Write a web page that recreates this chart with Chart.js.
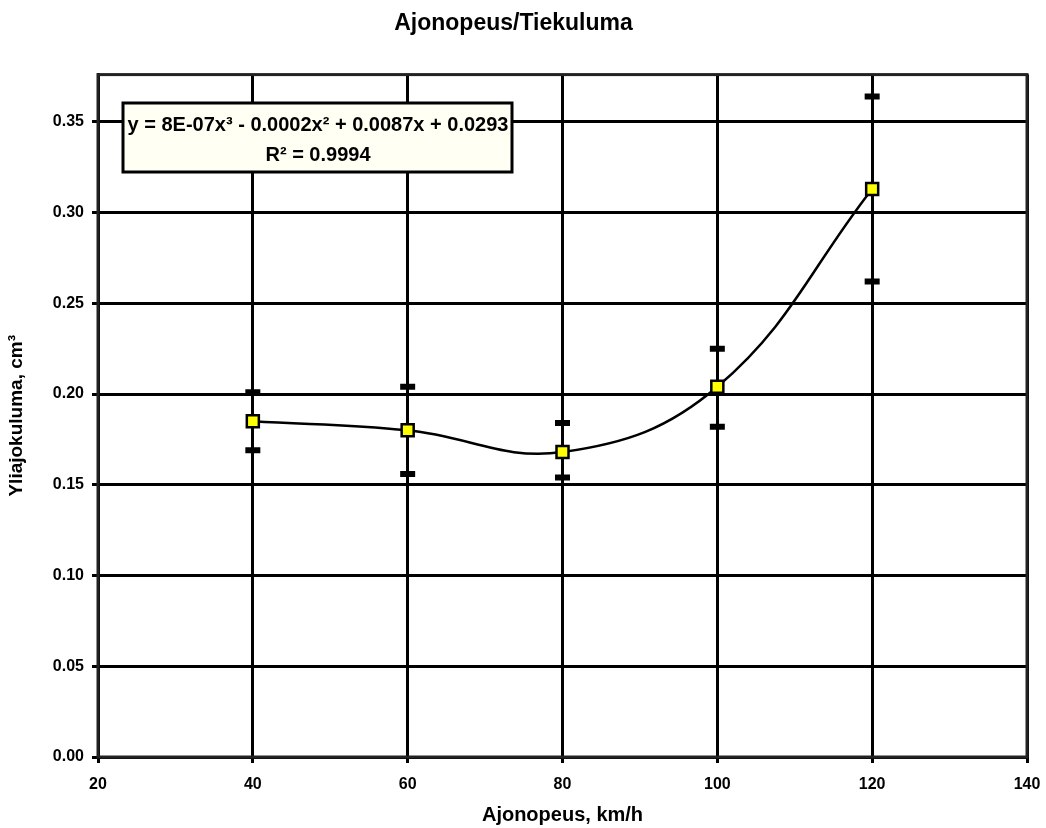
<!DOCTYPE html>
<html>
<head>
<meta charset="utf-8">
<script src="https://cdn.jsdelivr.net/npm/chart.js@4"></script>
<style>
  html, body { margin: 0; padding: 0; background: #fff; }
  #wrap { width: 1046px; height: 828px; }
</style>
</head>
<body>
<div id="wrap"><canvas id="myChart" width="1046" height="828"></canvas></div>
<script>
// data
var speeds = [40, 60, 80, 100, 120];
var wear = [0.185, 0.180, 0.168, 0.204, 0.313];
var errHigh = [0.201, 0.204, 0.184, 0.225, 0.364];
var errLow = [0.169, 0.156, 0.154, 0.182, 0.262];
var xTicks = [20, 40, 60, 80, 100, 120, 140];
var yTicks = [0, 0.05, 0.10, 0.15, 0.20, 0.25, 0.30, 0.35];
var equationLines = ['y = 8E-07x\u00b3 - 0.0002x\u00b2 + 0.0087x + 0.0293', 'R\u00b2 = 0.9994'];

var FONT = '"Liberation Sans", Arial, sans-serif';

function pts(ys) {
    return speeds.map(function (x, i) { return { x: x, y: ys[i] }; });
}

// frame round the plot area and the trendline label box
var extras = {
    id: 'extras',
    afterDraw: function (chart) {
        var c = chart.ctx, a = chart.chartArea;
        c.save();
        c.strokeStyle = '#222';
        c.lineWidth = 3;
        c.strokeRect(a.left, a.top, a.right - a.left, a.bottom - a.top);

        c.fillStyle = '#fffff4';
        c.fillRect(123, 103, 389, 69);
        c.strokeStyle = '#000';
        c.strokeRect(123, 103, 389, 69);
        c.fillStyle = '#000';
        c.font = 'bold 20px ' + FONT;
        c.textAlign = 'center';
        c.textBaseline = 'middle';
        c.fillText(equationLines[0], 318, 125);
        c.fillText(equationLines[1], 318, 155);
        c.restore();
    }
};

var ctx = document.getElementById('myChart').getContext('2d');
var chart = new Chart(ctx, {
    type: 'scatter',
    data: {
        datasets: [{
            label: 'Mittaus',
            data: pts(wear),
            pointStyle: 'rect',
            pointRadius: 8.5,
            pointBackgroundColor: '#ffff00',
            pointBorderColor: '#000',
            pointBorderWidth: 2.5,
            order: 0
        }, {
            label: 'Virhe ylä',
            data: pts(errHigh),
            pointStyle: 'line',
            pointRadius: 7.5,
            pointBorderColor: '#000',
            pointBorderWidth: 6,
            order: 1
        }, {
            label: 'Virhe ala',
            data: pts(errLow),
            pointStyle: 'line',
            pointRadius: 7.5,
            pointBorderColor: '#000',
            pointBorderWidth: 6,
            order: 1
        }, {
            label: 'Trendi',
            data: pts(wear),
            showLine: true,
            tension: 0.4,
            borderColor: '#000',
            borderWidth: 2.5,
            pointRadius: 0,
            order: 2
        }]
    },
    options: {
        responsive: false,
        animation: false,
        layout: { padding: { left: 0, right: 19, top: 0, bottom: 0 } },
        plugins: {
            legend: { display: false },
            tooltip: { enabled: false },
            title: {
                display: true,
                text: 'Ajonopeus/Tiekuluma',
                color: '#000',
                font: { family: FONT, size: 23, weight: 'bold' },
                padding: { top: 10, bottom: 37 }
            }
        },
        scales: {
            x: {
                type: 'linear',
                min: 20,
                max: 140,
                afterBuildTicks: function (s) { s.ticks = xTicks.map(function (v) { return { value: v }; }); },
                afterFit: function (s) { s.height = 71; s.paddingRight = 0; s.paddingLeft = 0; },
                grid: { color: '#000', lineWidth: 3, tickLength: 6 },
                border: { color: '#000', width: 3 },
                ticks: {
                    color: '#000',
                    padding: 12,
                    font: { family: FONT, size: 16, weight: 'bold' }
                },
                title: {
                    display: true,
                    text: 'Ajonopeus, km/h',
                    color: '#000',
                    font: { family: FONT, size: 20, weight: 'bold' },
                    padding: { top: 0, bottom: 1 }
                }
            },
            y: {
                min: 0,
                max: 0.376,
                afterBuildTicks: function (s) { s.ticks = yTicks.map(function (v) { return { value: v }; }); },
                afterFit: function (s) { s.width = 98; },
                grid: { color: '#000', lineWidth: 3, tickLength: 6 },
                border: { color: '#000', width: 3 },
                ticks: {
                    color: '#000',
                    padding: 8,
                    font: { family: FONT, size: 16, weight: 'bold' },
                    callback: function (v) { return v.toFixed(2); }
                },
                title: {
                    display: true,
                    text: 'Yliajokuluma, cm\u00b3',
                    color: '#000',
                    font: { family: FONT, size: 19, weight: 'bold' },
                    padding: { top: 5, bottom: 0 }
                }
            }
        }
    },
    plugins: [extras]
});
</script>
</body>
</html>
